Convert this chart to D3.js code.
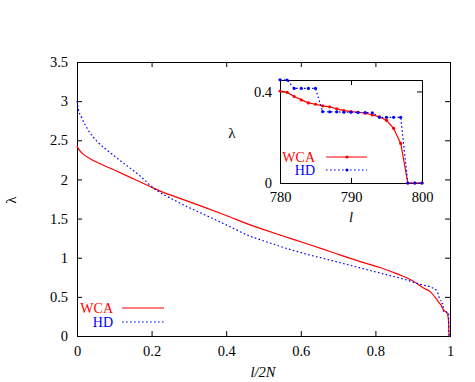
<!DOCTYPE html>
<html>
<head>
<meta charset="utf-8">
<script src="https://cdn.jsdelivr.net/npm/d3@7"></script>
<style>
  body { margin: 0; background: #fff; }
</style>
</head>
<body>
<div id="container"><svg></svg></div>
<script>
let width = 475, height = 382;

// main plot: lambda vs l/2N
let wca_x = [0, 0.004, 0.015, 0.035, 0.0625, 0.1, 0.155, 0.196, 0.223, 0.263, 0.344, 0.4, 0.464, 0.491, 0.544, 0.612, 0.678, 0.759, 0.812, 0.86, 0.902, 0.93, 0.946, 0.964, 0.97];
let wca_y = [2.43, 2.39, 2.33, 2.265, 2.20, 2.12, 2.00, 1.91, 1.85, 1.78, 1.64, 1.54, 1.42, 1.375, 1.29, 1.185, 1.08, 0.95, 0.875, 0.79, 0.70, 0.61, 0.57, 0.47, 0.43];
let hd_x = [0, 0.003, 0.0125, 0.03, 0.057, 0.084, 0.116, 0.17, 0.205, 0.263, 0.344, 0.4, 0.464, 0.491, 0.6, 0.678, 0.759, 0.812, 0.884, 0.92, 0.955, 0.965];
let hd_y = [3.0, 2.91, 2.79, 2.63, 2.47, 2.36, 2.24, 2.04, 1.89, 1.73, 1.545, 1.42, 1.275, 1.23, 1.065, 0.97, 0.87, 0.805, 0.715, 0.66, 0.61, 0.575];

// inset: lambda vs l, 780..800 (2N = 800)
let inset_l = [780, 781, 782, 783, 784, 785, 786, 787, 788, 789, 790, 791, 792, 793, 794, 795, 796, 797, 798, 799, 800];
let inset_wca = [0.402, 0.396, 0.378, 0.363, 0.350, 0.344, 0.337, 0.333, 0.324, 0.316, 0.312, 0.309, 0.305, 0.297, 0.289, 0.274, 0.239, 0.173, 0, 0, 0];
let inset_hd = [0.451, 0.450, 0.413, 0.413, 0.413, 0.413, 0.312, 0.311, 0.311, 0.309, 0.309, 0.308, 0.308, 0.307, 0.287, 0.287, 0.287, 0.287, 0, 0, 0];
let two_n = 800;

let x_ticks = [0, 0.2, 0.4, 0.6, 0.8, 1];
let y_ticks = [0, 0.5, 1, 1.5, 2, 2.5, 3, 3.5];
let ix_ticks = [780, 790, 800];
let iy_ticks = [0, 0.4];

let RED = "#ff0000", BLUE = "#0000ff";
let FONT = "Liberation Serif";

function series(xs, ys) {
    return xs.map((d, i) => ({x: d, y: ys[i]}));
}

function label(g, txt, xx, yy, opts) {
    let t = g.append("text")
        .attr("x", xx).attr("y", yy)
        .attr("text-anchor", opts.anchor || "middle")
        .attr("fill", opts.color || "#000")
        .style("font-family", FONT)
        .style("font-size", (opts.size || 14.5) + "px")
        .text(txt);
    if (opts.italic) t.style("font-style", "italic");
    if (opts.rotate) t.attr("transform", `rotate(${opts.rotate},${xx},${yy})`);
    return t;
}

// main curves + the tail taken from the inset data
let wca_main = series(wca_x, wca_y).concat(series(inset_l.map(d => d / two_n), inset_wca));
let hd_main = series(hd_x, hd_y).concat(series(inset_l.map(d => d / two_n), inset_hd));

let svg = d3.select('#container').select('svg')
    .attr('width', width)
    .attr('height', height);

function frame(g, x, y, xt, yt, xfmt, yfmt, pad) {
    let w = x.range()[1] - x.range()[0];
    let h = y.range()[0] - y.range()[1];
    g.append("rect")
        .attr("x", x.range()[0]).attr("y", y.range()[1])
        .attr("width", w).attr("height", h)
        .attr("fill", "#fff");

    let bottom = g.append("g")
        .attr("transform", `translate(0,${y.range()[0]})`)
        .call(d3.axisBottom(x).tickValues(xt).tickFormat(xfmt).tickSize(-5).tickPadding(pad[0]));
    let top = g.append("g")
        .attr("transform", `translate(0,${y.range()[1]})`)
        .call(d3.axisTop(x).tickValues(xt).tickFormat("").tickSize(-5));
    let left = g.append("g")
        .attr("transform", `translate(${x.range()[0]},0)`)
        .call(d3.axisLeft(y).tickValues(yt).tickFormat(yfmt).tickSize(-5).tickPadding(pad[1]));
    let right = g.append("g")
        .attr("transform", `translate(${x.range()[1]},0)`)
        .call(d3.axisRight(y).tickValues(yt).tickFormat("").tickSize(-5));

    [bottom, top, left, right].forEach(a => {
        a.selectAll("path").attr("stroke", "#000").attr("stroke-width", 1);
        a.selectAll("line").attr("stroke", "#000").attr("stroke-width", 1);
        a.selectAll("text")
            .attr("fill", "#000")
            .style("font-family", FONT)
            .style("font-size", "14.5px");
    });
}

// ---- main plot ----
let x = d3.scaleLinear().domain([0, 1]).range([77, 450]);
let y = d3.scaleLinear().domain([0, 3.5]).range([336, 62]);

let main = svg.append("g");
frame(main, x, y, x_ticks, y_ticks, d => d3.format("")(d), d => d3.format("")(d), [10, 9]);

let line = d3.line().x(d => x(d.x)).y(d => y(d.y)).curve(d3.curveMonotoneX);

main.append("path")
    .datum(wca_main)
    .attr("d", line)
    .attr("fill", "none")
    .attr("stroke", RED)
    .attr("stroke-width", 1.2);
main.append("path")
    .datum(hd_main)
    .attr("d", line)
    .attr("fill", "none")
    .attr("stroke", BLUE)
    .attr("stroke-width", 1.2)
    .attr("stroke-dasharray", "1.6,2.4");

label(main, "l/2N", 263, 377, {italic: true});
label(main, "λ", 16, 200, {size: 15, rotate: -90});

// main legend
let leg = [
    {name: "WCA", color: RED, dash: null, y: 308},
    {name: "HD", color: BLUE, dash: "1.6,2.4", y: 322}
];
leg.forEach(d => {
    label(main, d.name, 113, d.y + 5, {anchor: "end", color: d.color, size: 14});
    main.append("line")
        .attr("x1", 122).attr("x2", 164)
        .attr("y1", d.y).attr("y2", d.y)
        .attr("stroke", d.color)
        .attr("stroke-width", 1.2)
        .attr("stroke-dasharray", d.dash);
});

// ---- inset ----
let ix = d3.scaleLinear().domain([780, 800]).range([280, 422]);
let iy = d3.scaleLinear().domain([0, 0.45]).range([183, 80]);

let inset = svg.append("g");
frame(inset, ix, iy, ix_ticks, iy_ticks, d => d, d => d, [9, 8]);

let iline = d3.line().x(d => ix(d.x)).y(d => iy(d.y));
let iwca = series(inset_l, inset_wca);
let ihd = series(inset_l, inset_hd);

inset.append("path")
    .datum(iwca)
    .attr("d", iline)
    .attr("fill", "none")
    .attr("stroke", RED)
    .attr("stroke-width", 1.2);
inset.append("path")
    .datum(ihd)
    .attr("d", iline)
    .attr("fill", "none")
    .attr("stroke", BLUE)
    .attr("stroke-width", 1.2)
    .attr("stroke-dasharray", "1.6,2.4");

inset.append("g").selectAll("circle")
    .data(iwca)
    .join("circle")
    .attr("cx", d => ix(d.x)).attr("cy", d => iy(d.y))
    .attr("r", 1.6).attr("fill", RED);
inset.append("g").selectAll("circle")
    .data(ihd)
    .join("circle")
    .attr("cx", d => ix(d.x)).attr("cy", d => iy(d.y))
    .attr("r", 1.6).attr("fill", BLUE);

label(inset, "l", 351, 222, {italic: true});
label(inset, "λ", 232, 138, {size: 15});

let ileg = [
    {name: "WCA", color: RED, dash: null, y: 157},
    {name: "HD", color: BLUE, dash: "1.6,2.4", y: 170}
];
ileg.forEach(d => {
    label(inset, d.name, 315, d.y + 5, {anchor: "end", color: d.color, size: 14});
    inset.append("line")
        .attr("x1", 326).attr("x2", 367)
        .attr("y1", d.y).attr("y2", d.y)
        .attr("stroke", d.color)
        .attr("stroke-width", 1.2)
        .attr("stroke-dasharray", d.dash);
    inset.append("circle")
        .attr("cx", 347).attr("cy", d.y)
        .attr("r", 1.6).attr("fill", d.color);
});
</script>
</body>
</html>
